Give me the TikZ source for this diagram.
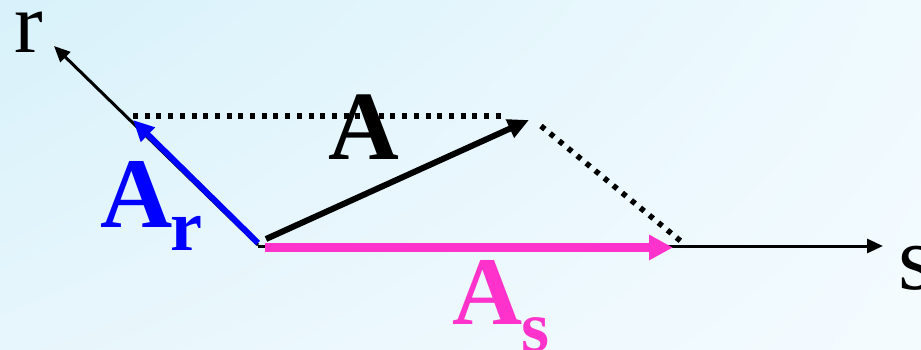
\documentclass[tikz,border=0pt]{standalone}
\usepackage{fontspec}
\setmainfont{Liberation Serif}
\usetikzlibrary{arrows.meta,shadings}
\definecolor{bgUL}{RGB}{216,241,250}
\definecolor{bgUR}{RGB}{239,250,254}
\definecolor{bgLL}{RGB}{231,246,252}
\definecolor{bgLR}{RGB}{244,251,255}
\definecolor{mag}{RGB}{255,51,204}
\definecolor{vblue}{RGB}{0,0,255}
\begin{document}
\begin{tikzpicture}[x=1pt,y=-1pt,
  axisline/.style={line width=3pt,-{Triangle[length=16pt,width=14pt]}},
  vecline/.style={line width=6pt,-{Triangle[length=21pt,width=19pt]}},
  dotline/.style={line width=5.5pt,dash pattern=on 5pt off 6.7pt},
  lab/.style={inner sep=0pt,anchor=base west,text depth=0pt}]
\useasboundingbox (0,0) rectangle (921,350);
\shade[upper left=bgUL,upper right=bgUR,lower left=bgLL,lower right=bgLR] (0,0) rectangle (921,350);
% points
\coordinate (O) at (258,245);
\coordinate (Rt) at (54,46);
\coordinate (St) at (883,246);
\coordinate (Os) at (258,246);
\coordinate (Ob) at (258,243);
\coordinate (Art) at (133,120);
\coordinate (Oa) at (266,239);
\coordinate (At) at (529,120);
\coordinate (Om) at (265,247.5);
\coordinate (Ast) at (673,247.5);
\coordinate (D1a) at (133,116);
\coordinate (D1b) at (505,116);
\coordinate (D2a) at (541,126);
\coordinate (D2b) at (683,243);
% axes
\draw[axisline] (Os) -- (St);
\draw[axisline] (O) -- (Rt);
% dotted construction lines
\draw[dotline] (D1a) -- (D1b);
\draw[dotline] (D2a) -- (D2b);
% vectors
\draw[vecline,vblue] (Ob) -- (Art);
\draw[vecline,black] (Oa) -- (At);
\draw[line width=8.5pt,mag,-{Triangle[length=24pt,width=24pt]}] (Om) -- (Ast);
% labels
\node[lab,font=\fontsize{86}{86}\selectfont,text height=40pt] (rlab) at (14,53) {r};
\node[lab,font=\fontsize{92}{92}\selectfont,text height=43pt] (slab) at (898,289) {s};
\node[lab,font=\fontsize{98}{98}\selectfont\bfseries] (Alab) at (328,160) {A};
\node[lab,font=\fontsize{100}{100}\selectfont\bfseries,text=vblue] (Arlab) at (100,227) {A};
\node[lab,font=\fontsize{72}{72}\selectfont\bfseries,text=vblue] (Arsub) at (170,250) {r};
\node[lab,font=\fontsize{97}{97}\selectfont\bfseries,text=mag] (Aslab) at (452,324) {A};
\node[lab,font=\fontsize{72}{72}\selectfont\bfseries,text=mag,text height=33pt] (Assub) at (521,351) {s};
\end{tikzpicture}
\end{document}
